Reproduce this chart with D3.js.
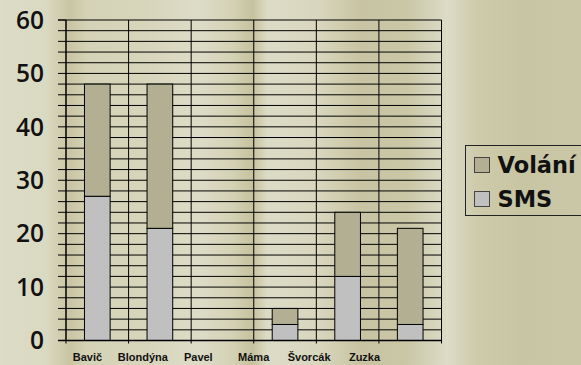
<!DOCTYPE html>
<html>
<head>
<meta charset="utf-8">
<script src="https://cdn.jsdelivr.net/npm/d3@7"></script>
<style>
  html, body { margin: 0; padding: 0; background: #d8d7bd; }
  svg { display: block; }
</style>
</head>
<body>
<svg id="chart" width="581" height="365"></svg>
<script>
// Počet kontaktů podle osoby: SMS a volání
const categories = ["Bavič", "Blondýna", "Pavel", "Máma", "Švorcák", "Zuzka"];
const smsValues = [27, 21, 0, 3, 12, 3];
const callValues = [21, 27, 0, 3, 12, 18];
const yLabelTicks = [0, 10, 20, 30, 40, 50, 60];
const seriesNames = ["Volání", "SMS"];

const rows = categories.map((c, i) => ({ name: c, SMS: smsValues[i], "Volání": callValues[i] }));

const W = 581, H = 365;
const svg = d3.select("#chart");

// background with soft vertical streaks
const defs = svg.append("defs");
const grad = defs.append("linearGradient").attr("id", "bg").attr("x1", 0).attr("x2", 1).attr("y1", 0).attr("y2", 0);
[
  [0.00, "#dcdcc7"], [0.08, "#dad9c1"], [0.12, "#c9c5a3"], [0.15, "#d5d3b7"],
  [0.25, "#d7d5ba"], [0.34, "#dddcc7"], [0.40, "#d4d2b5"], [0.435, "#c6c29f"],
  [0.46, "#dcdbc6"], [0.55, "#d8d6bd"], [0.62, "#c8c4a3"], [0.70, "#cac7a6"],
  [0.77, "#dcdcc7"], [0.82, "#cecbab"], [0.90, "#c8c5a3"], [1.00, "#cac7a7"]
].forEach(([o, c]) => grad.append("stop").attr("offset", o).attr("stop-color", c));
svg.append("rect").attr("width", W).attr("height", H).attr("fill", "url(#bg)");

const x0 = 66, x1 = 441.5, yTop = 20, yBot = 340.5;
const x = d3.scaleBand().domain(categories).range([x0, x1]).padding(0);
const y = d3.scaleLinear().domain([0, 60]).range([yBot, yTop]);
const labelX = d3.scalePoint().domain(categories).range([87.5, 364.5]);

const g = svg.append("g");

// horizontal gridlines every 2 units
const minor = d3.range(0, 61, 2);
g.selectAll("line.hgrid").data(minor).join("line")
  .attr("class", "hgrid")
  .attr("x1", x0).attr("x2", x1)
  .attr("y1", d => y(d)).attr("y2", d => y(d))
  .attr("stroke", "#000").attr("stroke-width", 1);

// vertical separators between categories
const bounds = categories.map(c => x(c)).concat([x1]);
g.selectAll("line.vgrid").data(bounds).join("line")
  .attr("class", "vgrid")
  .attr("x1", d => d).attr("x2", d => d)
  .attr("y1", yTop).attr("y2", yBot + 3)
  .attr("stroke", "#000").attr("stroke-width", 1);

// left axis ticks and labels
const yAxis = d3.axisLeft(y).tickValues(minor).tickSize(8).tickPadding(14)
  .offset(0)
  .tickFormat(d => yLabelTicks.includes(d) ? d : "");
const ya = svg.append("g").attr("transform", `translate(${x0},0)`).call(yAxis);
ya.select(".domain").attr("stroke", "#000");
ya.selectAll(".tick line").attr("stroke", "#000");
ya.selectAll(".tick text")
  .attr("font-family", "Open Sans, sans-serif")
  .attr("font-weight", 600)
  .attr("font-size", 24.5)
  .attr("fill", "#111")
  .attr("dy", "0.36em");

// stacked bars
const stack = d3.stack().keys(["SMS", "Volání"]);
const layers = stack(rows);
const colors = { "SMS": "#c0c0c0", "Volání": "#b2af93" };
const barW = x.bandwidth() * 0.41;

svg.append("g").selectAll("g").data(layers).join("g")
  .attr("fill", d => colors[d.key])
  .selectAll("rect").data(d => d.filter(p => p[1] - p[0] > 0)).join("rect")
  .attr("x", d => x(d.data.name) + (x.bandwidth() - barW) / 2)
  .attr("width", barW)
  .attr("y", d => y(d[1]))
  .attr("height", d => y(d[0]) - y(d[1]))
  .attr("stroke", "#000").attr("stroke-width", 1);

// baseline
svg.append("line").attr("x1", x0 - 8).attr("x2", x1).attr("y1", yBot).attr("y2", yBot)
  .attr("stroke", "#000").attr("stroke-width", 1.3);

// category labels
svg.append("g").selectAll("text").data(categories).join("text")
  .attr("x", d => labelX(d))
  .attr("y", 361)
  .attr("text-anchor", "middle")
  .attr("font-family", "Liberation Sans, Arial, sans-serif")
  .attr("font-weight", "bold")
  .attr("font-size", 11)
  .attr("fill", "#111")
  .text(d => d);

// legend
const lg = svg.append("g");
lg.append("rect").attr("x", 465.5).attr("y", 145.5).attr("width", 140).attr("height", 70)
  .attr("fill", "none").attr("stroke", "#222").attr("stroke-width", 1);
const item = lg.selectAll("g.item").data(seriesNames).join("g")
  .attr("class", "item")
  .attr("transform", (d, i) => `translate(474.5, ${157.5 + i * 34})`);
item.append("rect").attr("width", 15).attr("height", 15)
  .attr("fill", d => colors[d]).attr("stroke", "#444").attr("stroke-width", 1);
item.append("text")
  .attr("x", 23).attr("y", 15.5)
  .attr("font-family", "DejaVu Sans, sans-serif")
  .attr("font-weight", "bold")
  .attr("font-size", 22.5)
  .attr("fill", "#111")
  .text(d => d);
</script>
</body>
</html>
